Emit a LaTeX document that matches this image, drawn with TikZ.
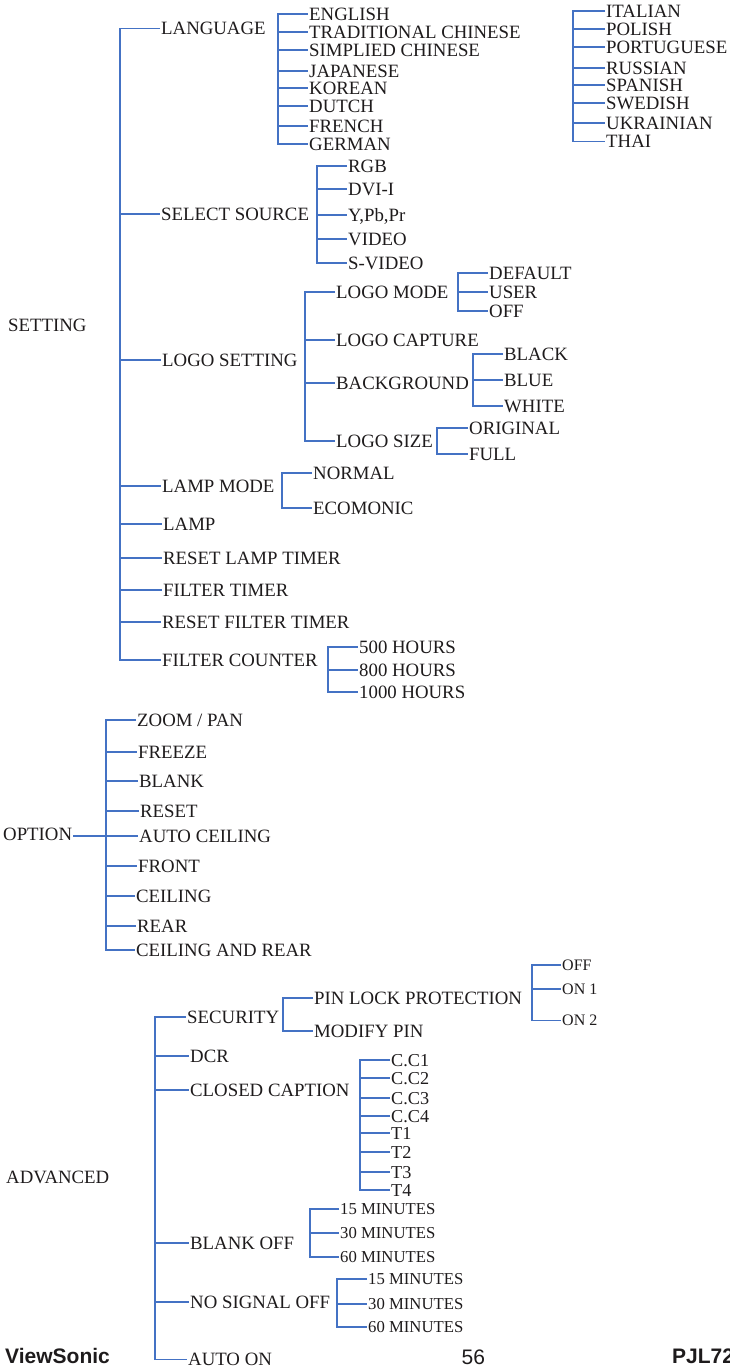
\documentclass[tikz,border=0pt]{standalone}
\usepackage{fontspec}
\setmainfont{Liberation Serif}
\newfontfamily\footfont{Liberation Sans}
\definecolor{linec}{RGB}{68,114,196}
\definecolor{txtc}{RGB}{30,27,28}
\newcommand\lbfont{\fontsize{18.8}{20}\selectfont}
\newcommand\ccfont{\fontsize{18.2}{20}\selectfont}
\newcommand\mnfont{\fontsize{16.7}{18}\selectfont}
\newcommand\onfont{\fontsize{16}{18}\selectfont}
\tikzset{
  lbl/.style={anchor=west, inner xsep=1pt, inner ysep=0pt, text height=12.4pt, text depth=0pt, font=\lbfont, text=txtc},
  cclbl/.style={lbl, font=\ccfont, text height=12pt},
  mnlbl/.style={lbl, font=\mnfont, text height=11pt},
  onlbl/.style={lbl, font=\onfont, text height=10.5pt},
  conn/.style={draw=linec, line width=1.8pt, line join=miter},
  foot/.style={anchor=west, inner sep=0pt, text height=15pt, text depth=0pt, text=txtc, font=\footfont\fontsize{21}{24}\selectfont}
}
\begin{document}
\begin{tikzpicture}[x=1pt,y=-1pt]
\useasboundingbox (0,0) rectangle (730,1367);
% ---------- SETTING ----------
\node[lbl] (setting) at (7,325) {SETTING};
\coordinate (spSet) at (120,0);
\node[lbl] (lang) at (160,28.5) {LANGUAGE};
\node[lbl] (src) at (160,214) {SELECT SOURCE};
\node[lbl] (logo) at (161,360) {LOGO SETTING};
\node[lbl] (lampmode) at (161,486) {LAMP MODE};
\node[lbl] (lamp) at (162,524) {LAMP};
\node[lbl] (rlt) at (162,558) {RESET LAMP TIMER};
\node[lbl] (ft) at (162,590) {FILTER TIMER};
\node[lbl] (rft) at (161,622) {RESET FILTER TIMER};
\node[lbl] (fc) at (161,660) {FILTER COUNTER};
\draw[conn] (lang.west) -| (fc.west -| spSet) -- (fc.west);
\foreach \n in {src,logo,lampmode,lamp,rlt,ft,rft} \draw[conn] (\n.west -| spSet) -- (\n.west);
% languages
\coordinate (spLang) at (278,0);
\node[lbl] (eng) at (308,14) {ENGLISH};
\node[lbl] (trad) at (308,32) {TRADITIONAL CHINESE};
\node[lbl] (simp) at (308,50) {SIMPLIED CHINESE};
\node[lbl] (jap) at (308,71) {JAPANESE};
\node[lbl] (kor) at (308,88) {KOREAN};
\node[lbl] (dut) at (308,106) {DUTCH};
\node[lbl] (fre) at (308,126) {FRENCH};
\node[lbl] (ger) at (308,144) {GERMAN};
\draw[conn] (eng.west) -| (ger.west -| spLang) -- (ger.west);
\foreach \n in {trad,simp,jap,kor,dut,fre} \draw[conn] (\n.west -| spLang) -- (\n.west);
\coordinate (spLangB) at (573,0);
\node[lbl] (ita) at (605,11) {ITALIAN};
\node[lbl] (pol) at (605,29) {POLISH};
\node[lbl] (por) at (605,47) {PORTUGUESE};
\node[lbl] (rus) at (605,68) {RUSSIAN};
\node[lbl] (spa) at (605,85) {SPANISH};
\node[lbl] (swe) at (605,103) {SWEDISH};
\node[lbl] (ukr) at (605,123) {UKRAINIAN};
\node[lbl] (tha) at (605,141.5) {THAI};
\draw[conn] (ita.west) -| (tha.west -| spLangB) -- (tha.west);
\foreach \n in {pol,por,rus,spa,swe,ukr} \draw[conn] (\n.west -| spLangB) -- (\n.west);
% sources
\coordinate (spSrc) at (317,0);
\node[lbl] (rgb) at (347,166) {RGB};
\node[lbl] (dvi) at (347,189) {DVI-I};
\node[lbl] (ypp) at (347,215) {Y,Pb,Pr};
\node[lbl] (vid) at (347,239) {VIDEO};
\node[lbl] (svid) at (347,263) {S-VIDEO};
\draw[conn] (rgb.west) -| (svid.west -| spSrc) -- (svid.west);
\foreach \n in {dvi,ypp,vid} \draw[conn] (\n.west -| spSrc) -- (\n.west);
% logo setting
\coordinate (spLogo) at (305,0);
\node[lbl] (lmode) at (335,292) {LOGO MODE};
\node[lbl] (lcap) at (335,340) {LOGO CAPTURE};
\node[lbl] (bg) at (335,383) {BACKGROUND};
\node[lbl] (lsize) at (335,441) {LOGO SIZE};
\draw[conn] (lmode.west) -| (lsize.west -| spLogo) -- (lsize.west);
\foreach \n in {lcap,bg} \draw[conn] (\n.west -| spLogo) -- (\n.west);
\coordinate (spLmode) at (458,0);
\node[lbl] (def) at (488,273) {DEFAULT};
\node[lbl] (usr) at (488,292) {USER};
\node[lbl] (loff) at (488,311) {OFF};
\draw[conn] (def.west) -| (loff.west -| spLmode) -- (loff.west);
\draw[conn] (usr.west -| spLmode) -- (usr.west);
\coordinate (spBg) at (473,0);
\node[lbl] (black) at (503,354) {BLACK};
\node[lbl] (blue) at (503,380) {BLUE};
\node[lbl] (white) at (503,406) {WHITE};
\draw[conn] (black.west) -| (white.west -| spBg) -- (white.west);
\draw[conn] (blue.west -| spBg) -- (blue.west);
\coordinate (spLsize) at (437,0);
\node[lbl] (orig) at (468,428) {ORIGINAL};
\node[lbl] (full) at (468,454) {FULL};
\draw[conn] (orig.west) -| (full.west -| spLsize) -- (full.west);
% lamp mode
\coordinate (spLamp) at (282,0);
\node[lbl] (norm) at (312,473) {NORMAL};
\node[lbl] (eco) at (312,508) {ECOMONIC};
\draw[conn] (norm.west) -| (eco.west -| spLamp) -- (eco.west);
% filter counter
\coordinate (spFc) at (328,0);
\node[lbl] (h500) at (358,647) {500 HOURS};
\node[lbl] (h800) at (358,670) {800 HOURS};
\node[lbl] (h1000) at (358,692) {1000 HOURS};
\draw[conn] (h500.west) -| (h1000.west -| spFc) -- (h1000.west);
\draw[conn] (h800.west -| spFc) -- (h800.west);
% ---------- OPTION ----------
\node[lbl] (opt) at (2,834) {OPTION};
\coordinate (spOpt) at (106,0);
\node[lbl] (zoom) at (136,720) {ZOOM / PAN};
\node[lbl] (frz) at (137,752) {FREEZE};
\node[lbl] (blank) at (138,781) {BLANK};
\node[lbl] (reset) at (139,811) {RESET};
\node[lbl] (ac) at (138,836) {AUTO CEILING};
\node[lbl] (front) at (137,866) {FRONT};
\node[lbl] (ceil) at (135,896) {CEILING};
\node[lbl] (rear) at (136,926) {REAR};
\node[lbl] (car) at (135,950) {CEILING AND REAR};
\draw[conn] (zoom.west) -| (car.west -| spOpt) -- (car.west);
\foreach \n in {frz,blank,reset,front,ceil,rear} \draw[conn] (\n.west -| spOpt) -- (\n.west);
\draw[conn] (opt.east |- ac.west) -- (ac.west);
% ---------- ADVANCED ----------
\node[lbl] (adv) at (5,1177) {ADVANCED};
\coordinate (spAdv) at (155,0);
\node[lbl] (sec) at (186,1017) {SECURITY};
\node[lbl] (dcr) at (189,1056) {DCR};
\node[lbl] (cc) at (189,1090) {CLOSED CAPTION};
\node[lbl] (boff) at (189,1243) {BLANK OFF};
\node[lbl] (nsoff) at (189,1302) {NO SIGNAL OFF};
\node[lbl] (aon) at (187,1359.5) {AUTO ON};
\draw[conn] (sec.west) -| (aon.west -| spAdv) -- (aon.west);
\foreach \n in {dcr,cc,boff,nsoff} \draw[conn] (\n.west -| spAdv) -- (\n.west);
% security
\coordinate (spSec) at (283,0);
\node[lbl] (pin) at (313,998) {PIN LOCK PROTECTION};
\node[lbl] (mpin) at (313,1031) {MODIFY PIN};
\draw[conn] (pin.west) -| (mpin.west -| spSec) -- (mpin.west);
\coordinate (spPin) at (532,0);
\node[onlbl] (poff) at (561,965) {OFF};
\node[onlbl] (on1) at (561,989) {ON 1};
\node[onlbl] (on2) at (561,1020.5) {ON 2};
\draw[conn] (poff.west) -| (on2.west -| spPin) -- (on2.west);
\draw[conn] (on1.west -| spPin) -- (on1.west);
% closed caption
\coordinate (spCc) at (360,0);
\node[cclbl] (cc1) at (390,1060) {C.C1};
\node[cclbl] (cc2) at (390,1078) {C.C2};
\node[cclbl] (cc3) at (390,1098) {C.C3};
\node[cclbl] (cc4) at (390,1116) {C.C4};
\node[cclbl] (t1) at (390,1133) {T1};
\node[cclbl] (t2) at (390,1152) {T2};
\node[cclbl] (t3) at (390,1172) {T3};
\node[cclbl] (t4) at (390,1190) {T4};
\draw[conn] (cc1.west) -| (t4.west -| spCc) -- (t4.west);
\foreach \n in {cc2,cc3,cc4,t1,t2,t3} \draw[conn] (\n.west -| spCc) -- (\n.west);
% blank off
\coordinate (spBoff) at (310,0);
\node[mnlbl] (b15) at (339,1209) {15 MINUTES};
\node[mnlbl] (b30) at (339,1233) {30 MINUTES};
\node[mnlbl] (b60) at (339,1257) {60 MINUTES};
\draw[conn] (b15.west) -| (b60.west -| spBoff) -- (b60.west);
\draw[conn] (b30.west -| spBoff) -- (b30.west);
% no signal off
\coordinate (spNs) at (337,0);
\node[mnlbl] (n15) at (367,1279) {15 MINUTES};
\node[mnlbl] (n30) at (367,1304) {30 MINUTES};
\node[mnlbl] (n60) at (367,1327) {60 MINUTES};
\draw[conn] (n15.west) -| (n60.west -| spNs) -- (n60.west);
\draw[conn] (n30.west -| spNs) -- (n30.west);
% ---------- footer ----------
\node[foot, font=\footfont\bfseries\fontsize{21}{24}\selectfont] (vs) at (5,1356) {ViewSonic};
\node[foot] (pg) at (461.5,1356.5) {56};
\node[foot, font=\footfont\bfseries\fontsize{21}{24}\selectfont] (mdl) at (672,1356) {PJL72};
\end{tikzpicture}
\end{document}
